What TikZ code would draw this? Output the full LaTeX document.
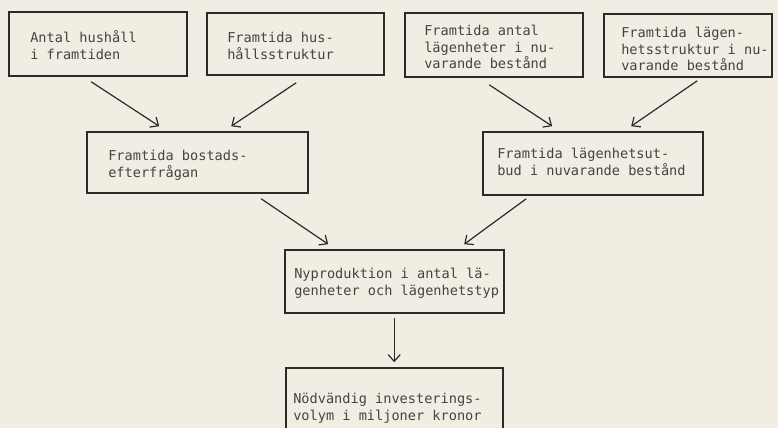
\documentclass[tikz,border=0pt]{standalone}
\usepackage{fontspec}
\newfontfamily\typew{DejaVu Sans Mono}
\usetikzlibrary{arrows.meta,fit}
\definecolor{paper}{HTML}{F1EDE2}
\definecolor{ink}{HTML}{2B2B2B}
\definecolor{tink}{HTML}{444444}
\newcommand\fl{\rule{0pt}{9pt}}
\tikzset{
  box/.style={draw=ink, line width=1.2pt, inner sep=0pt},
  txt/.style={anchor=north west, inner sep=0pt, align=left, text=tink,
    font=\typew\fontsize{10.2}{12.6}\selectfont},
  arr/.style={draw=ink, line width=0.9pt, -{Straight Barb[length=5pt,width=9pt]}}
}
\begin{document}
\begin{tikzpicture}[x=0.75pt,y=-0.75pt]
\fill[paper] (0,0) rectangle (778,428);
\useasboundingbox (0,0) rectangle (778,428);
% boxes
\node[box, fit={(9,12) (187,76)}] (b1) {};
\node[box, fit={(207,13) (384,75)}] (b2) {};
\node[box, fit={(405,13) (583,77)}] (b3) {};
\node[box, fit={(604,14) (772,77)}] (b4) {};
\node[box, fit={(87,132) (308,193)}] (b5) {};
\node[box, fit={(483,132) (703,195)}] (b6) {};
\node[box, fit={(285,250) (504,313)}] (b7) {};
\node[box, fit={(286,368) (503,433)}] (b8) {};
% texts
\node[txt] (t1) at (30,30) {\fl Antal hushåll\\i framtiden};
\node[txt] (t2) at (227,30) {\fl Framtida hus-\\hållsstruktur};
\node[txt] (t3) at (424,23) {\fl Framtida antal\\lägenheter i nu-\\varande bestånd};
\node[txt] (t4) at (621,25) {\fl Framtida lägen-\\hetsstruktur i nu-\\varande bestånd};
\node[txt] (t5) at (108,148) {\fl Framtida bostads-\\efterfrågan};
\node[txt] (t6) at (497,146) {\fl Framtida lägenhetsut-\\bud i nuvarande bestånd};
\node[txt] (t7) at (294,266) {\fl Nyproduktion i antal lä-\\genheter och lägenhetstyp};
\node[txt] (t8) at (293,391) {\fl Nödvändig investerings-\\volym i miljoner kronor};
% arrows
\draw[arr] ([shift={(83,5)}]b1.south west) -- ([shift={(73,-5)}]b5.north west);
\draw[arr] ([shift={(90,7)}]b2.south west) -- ([shift={(145,-5)}]b5.north west);
\draw[arr] ([shift={(85,7)}]b3.south west) -- ([shift={(70,-5)}]b6.north west);
\draw[arr] ([shift={(94,3)}]b4.south west) -- ([shift={(149,-5)}]b6.north west);
\draw[arr] ([shift={(175,5)}]b5.south west) -- ([shift={(44,-5)}]b7.north west);
\draw[arr] ([shift={(44,3)}]b6.south west) -- ([shift={(180,-5)}]b7.north west);
\draw[arr] ([shift={(110,4)}]b7.south west) -- ([shift={(109,-5)}]b8.north west);
\end{tikzpicture}
\end{document}
